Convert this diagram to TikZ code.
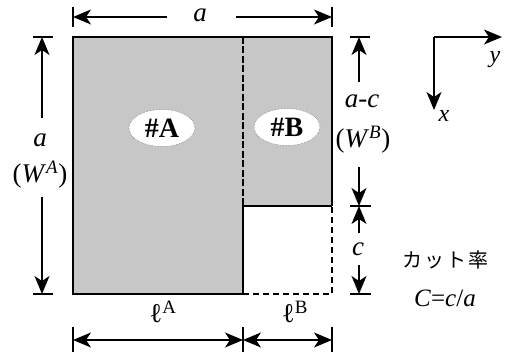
\documentclass[tikz,border=0pt]{standalone}
\usepackage{fontspec}
\setmainfont{Liberation Serif}
\newfontfamily\jpfont{Noto Sans CJK JP}
\usetikzlibrary{arrows.meta,shapes.geometric}
\begin{document}
\begin{tikzpicture}[x=1pt,y=-1pt,
  tip/.tip={Stealth[length=18pt,width=15pt,inset=5pt]},
  dimline/.style={line width=1.5pt,-tip},
  dimboth/.style={line width=1.5pt,tip-tip},
  tick/.style={line width=1.5pt},
  border/.style={line width=2pt},
  dashborder/.style={line width=1.5pt,dash pattern=on 6pt off 4pt},
  lbl/.style={font=\fontsize{27}{29}\selectfont,inner sep=0pt},
  tag/.style={ellipse,fill=white,draw=black!60,densely dotted,line width=0.5pt,minimum width=66pt,minimum height=37pt,font=\fontsize{28}{30}\selectfont\bfseries,inner sep=0pt},
  axis/.style={line width=1.5pt,-tip}
]
\useasboundingbox (0,0) rectangle (512,352);
% corners
\coordinate (TL) at (73,37);
\coordinate (TR) at (332,37);
\coordinate (MT) at (243,37);
\coordinate (MC) at (243,206);
\coordinate (RC) at (332,206);
\coordinate (MB) at (243,294);
\coordinate (BR) at (332,294);
\coordinate (BL) at (73,294);
% shape
\fill[black!22] (TL) -- (TR) -- (RC) -- (MC) -- (MB) -- (BL) -- cycle;
\draw[border] (RC) -- (TR) -- (TL) -- (BL) -- (MB) -- (MC) -- (RC);
\draw[dashborder] (MB) -- (BR) -- (RC);
\draw[line width=2.5pt,dash pattern=on 7pt off 2.5pt] (MT) -- (MC);
\node[tag] (tA) at (162,128) {\#A};
\node[tag] (tB) at (287,127) {\#B};
% top dimension
\node[lbl] (ta) at (200,15) {\textit{a}};
\coordinate (tl) at (73,17); \coordinate (tr) at (332,17);
\coordinate (tlg) at (167,17); \coordinate (trg) at (236,17);
\draw[tick] (73,7) -- (73,27); \draw[tick] (332,7) -- (332,27);
\draw[dimline] (tlg) -- (tl);
\draw[dimline] (trg) -- (tr);
% left dimension
\node[lbl] (la) at (40,140) {\textit{a}};
\node[lbl] (lw) at (40,175) {(\textit{W}\textsuperscript{\textit{A}})};
\coordinate (lt) at (42,37); \coordinate (lb) at (42,294);
\coordinate (ltg) at (42,118); \coordinate (lbg) at (42,197);
\draw[tick] (33,37) -- (53,37); \draw[tick] (33,294) -- (53,294);
\draw[dimline] (ltg) -- (lt);
\draw[dimline] (lbg) -- (lb);
% right dimension a-c
\node[lbl] (rac) at (362,101) {\textit{a}-\textit{c}};
\node[lbl] (rw) at (363,140) {(\textit{W}\textsuperscript{\textit{B}})};
\coordinate (rt) at (359,37); \coordinate (rm) at (359,206); \coordinate (rb) at (359,294);
\coordinate (rtg) at (359,82); \coordinate (rmg) at (359,167);
\draw[tick] (350,37) -- (370,37);
\draw[tick] (350,206) -- (371,206);
\draw[tick] (350,294) -- (371,294);
\draw[dimline] (rtg) -- (rt);
\draw[dimline] (rmg) -- (rm);
% c
\node[lbl] (rc) at (358,249) {\textit{c}};
\coordinate (rcg1) at (359,233); \coordinate (rcg2) at (359,265);
\draw[dimline] (rcg1) -- (rm);
\draw[dimline] (rcg2) -- (rb);
% bottom
\draw[tick] (73,327) -- (73,352); \draw[tick] (243,327) -- (243,352); \draw[tick] (332,327) -- (332,352);
\coordinate (bl) at (73,340); \coordinate (bm) at (243,340); \coordinate (br) at (332,340);
\draw[dimboth] (bl) -- (bm);
\draw[dimboth] (bm) -- (br);
\node[lbl] (lA) at (163,312) {ℓ\textsuperscript{A}};
\node[lbl] (lB) at (295,312) {ℓ\textsuperscript{B}};
% axes
\coordinate (O) at (434,37);
\coordinate (Y) at (502,37);
\coordinate (X) at (434,110);
\draw[axis] (O) -- (Y);
\draw[axis] (O) -- (X);
\node[lbl,font=\fontsize{24}{26}\selectfont] (ly) at (495,60) {\textit{y}};
\node[lbl,font=\fontsize{24}{26}\selectfont] (lx) at (444,116) {\textit{x}};
% cut ratio
\node[inner sep=0pt,font=\jpfont\fontsize{20}{22}\selectfont] (cut) at (445,260) {カ\hspace{2pt}ッ\hspace{2pt}ト\hspace{2pt}率};
\node[inner sep=0pt,font=\fontsize{25}{27}\selectfont] (cca) at (445,298) {\textit{C}=\textit{c}/\textit{a}};
\end{tikzpicture}
\end{document}
